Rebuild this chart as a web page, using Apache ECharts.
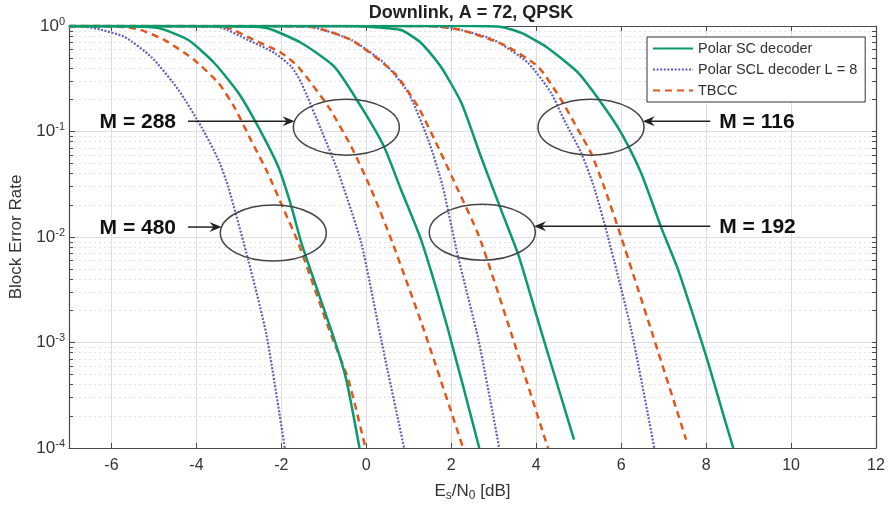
<!DOCTYPE html>
<html lang="en">
<head>
<meta charset="UTF-8">
<title>Downlink, A = 72, QPSK</title>
<script src="https://cdn.jsdelivr.net/npm/echarts@6/dist/echarts.min.js"></script>
</head>
<body style="margin:0;background:#fff">
<div id="main" style="width:890px;height:507px;"></div>
<script type="text/javascript">
// Es/N0 [dB] vs block error rate
const sc480 = [[-7,1],[-5.6,0.995],[-4.89,0.957],[-4.19,0.736],[-3.58,0.446],[-3.01,0.232],[-2.54,0.110],[-2.07,0.046],[-1.76,0.0192],[-1.53,0.0088],[-0.75,0.00106],[-0.47,0.00044],[-0.16,0.0001]];
const scl480 = [[-7,1],[-6.6,0.985],[-6.24,0.92],[-5.69,0.787],[-5.06,0.508],[-4.42,0.247],[-3.88,0.110],[-3.48,0.0537],[-3.25,0.0298],[-2.78,0.00605],[-2.35,0.00118],[-1.92,0.0001]];
const tbcc480 = [[-7,1],[-6,0.995],[-5.36,0.93],[-4.75,0.736],[-4.05,0.476],[-3.48,0.288],[-3.11,0.171],[-2.71,0.082],[-2.33,0.0412],[-1.93,0.0177],[-1.6,0.00877],[-0.87,0.00131],[-0.42,0.000441],[-0.02,0.0001]];

const sc288 = [[-7,1],[-3.2,0.995],[-2.35,0.957],[-1.53,0.69],[-0.75,0.409],[-0.12,0.171],[0.42,0.0713],[0.82,0.0279],[1.29,0.0094],[1.93,0.0013],[2.66,0.0001]];
const scl288 = [[-7,1],[-4.2,0.998],[-3.48,0.98],[-2.78,0.736],[-2.16,0.555],[-1.76,0.409],[-1.53,0.288],[-1.06,0.103],[-0.66,0.041],[-0.12,0.0088],[0.35,0.00106],[0.89,0.0001]];
const tbcc288 = [[-7,1],[-4.1,0.998],[-3.34,0.98],[-2.64,0.736],[-2.0,0.555],[-1.6,0.409],[-0.89,0.171],[-0.35,0.0713],[0.12,0.0279],[0.59,0.0094],[1.36,0.0013],[2.28,0.0001]];

const sc192 = [[-7,1],[-0.5,0.998],[0.12,0.98],[0.82,0.916],[1.29,0.69],[1.76,0.409],[2.24,0.186],[2.71,0.056],[3.18,0.0178],[3.58,0.00676],[4.07,0.00148],[4.89,0.00012]];
const scl192 = [[-7,1],[-2,0.998],[-1.29,0.98],[-0.35,0.736],[0.42,0.446],[0.99,0.232],[1.46,0.083],[1.79,0.0311],[2.16,0.0065],[2.64,0.00106],[3.13,0.0001]];
const tbcc192 = [[-7,1],[-2,0.998],[-1.29,0.98],[-0.35,0.736],[0.66,0.359],[1.22,0.171],[1.69,0.0713],[2.16,0.0279],[2.66,0.01],[3.41,0.00123],[4.24,0.000111],[4.28,0.0001]];

const sc116 = [[-7,1],[2.5,0.998],[3.18,0.98],[3.65,0.86],[4.24,0.632],[4.99,0.359],[5.6,0.171],[6.0,0.097],[6.47,0.0404],[6.94,0.0124],[7.34,0.0049],[7.88,0.00106],[8.05,0.00064],[8.42,0.000197],[8.64,0.0001]];
const scl116 = [[-7,1],[1.3,0.998],[1.76,0.98],[2.24,0.916],[3.01,0.736],[3.81,0.446],[4.35,0.232],[4.66,0.128],[5.06,0.0625],[5.36,0.0298],[5.69,0.01],[6.24,0.0013],[6.78,0.0001]];
const tbcc116 = [[-7,1],[1.3,0.998],[1.76,0.98],[2.24,0.916],[3.25,0.66],[4.05,0.409],[4.59,0.199],[4.99,0.103],[5.29,0.0625],[5.6,0.0298],[6.0,0.01],[6.71,0.0013],[7.53,0.00012]];

// ticks
const xTicks = [-6, -4, -2, 0, 2, 4, 6, 8, 10, 12];
const yMajor = [1e-4, 1e-3, 1e-2, 1e-1, 1];
const yMinor = [];
[1e-4, 1e-3, 1e-2, 1e-1].forEach(d => {
  for (let m = 2; m <= 9; m++) yMinor.push(+(m * d).toPrecision(3));
});

// annotation ellipses, centre in data units
const notes = [
  { text: 'M = 480', x: -2.19, y: 0.0109, side: 'left' },
  { text: 'M = 288', x: -0.47, y: 0.110, side: 'left' },
  { text: 'M = 192', x: 2.73, y: 0.0111, side: 'right' },
  { text: 'M = 116', x: 5.29, y: 0.110, side: 'right' }
];

const names = { sc: 'Polar SC decoder', scl: 'Polar SCL decoder L = 8', tbcc: 'TBCC' };
const looks = {
  sc:   { color: '#0b9a6e', width: 2.5, type: 'solid' },
  scl:  { color: '#5f5fc0', width: 2.2, type: [2, 1.6] },
  tbcc: { color: '#e2581c', width: 2.5, type: [7, 5] }
};
const curves = [
  ['scl', scl480], ['scl', scl288], ['scl', scl192], ['scl', scl116],
  ['tbcc', tbcc480], ['tbcc', tbcc288], ['tbcc', tbcc192], ['tbcc', tbcc116],
  ['sc', sc480], ['sc', sc288], ['sc', sc192], ['sc', sc116]
];

const font = '"Liberation Sans", Arial, sans-serif';
const axisCol = '#4a4a4a';
const txtCol = '#333';

let myChart = echarts.init(document.getElementById('main'));

let options = {
  animation: false,
  textStyle: { fontFamily: font },
  title: {
    text: 'Downlink, A = 72, QPSK',
    left: 471, top: 4, padding: 0, textAlign: 'center',
    textStyle: { fontSize: 18, fontWeight: 'bold', color: '#222' }
  },
  legend: {
    data: [names.sc, names.scl, names.tbcc],
    orient: 'vertical', left: 647, top: 37,
    itemWidth: 40, itemHeight: 14, itemGap: 6,
    padding: [4, 8, 4, 5],
    backgroundColor: '#fff', borderColor: '#333', borderWidth: 1,
    itemStyle: { opacity: 0 },
    textStyle: { fontSize: 14.5, color: txtCol }
  },
  grid: { left: 67, right: 14, top: 26, bottom: 59 },
  xAxis: [{
    type: 'value', min: -7, max: 12, position: 'bottom',
    name: 'E{sub|s}/N{sub|0} [dB]', nameLocation: 'middle', nameGap: 33,
    nameTextStyle: { fontSize: 17, color: txtCol, rich: { sub: { fontSize: 12, color: txtCol, padding: [9, 0, 0, 0] } } },
    axisLine: { onZero: false, lineStyle: { color: axisCol, width: 1.2 } },
    axisTick: { inside: true, length: 5, customValues: xTicks, lineStyle: { color: axisCol } },
    axisLabel: { customValues: xTicks, fontSize: 16, color: txtCol, margin: 10 },
    splitLine: { show: true, lineStyle: { color: '#dedede' } }
  }, {
    type: 'value', min: -7, max: 12, position: 'top',
    axisLine: { onZero: false, lineStyle: { color: axisCol, width: 1.2 } },
    axisTick: { inside: true, length: 5, customValues: xTicks, lineStyle: { color: axisCol } },
    axisLabel: { show: false }, splitLine: { show: false }
  }],
  yAxis: [{
    type: 'log', logBase: 10, min: 1e-4, max: 1, position: 'left',
    name: 'Block Error Rate', nameLocation: 'middle', nameGap: 44,
    nameTextStyle: { fontSize: 17, color: txtCol },
    axisLine: { show: true, onZero: false, lineStyle: { color: axisCol, width: 1.2 } },
    axisTick: { inside: true, length: 6, customValues: yMajor, lineStyle: { color: axisCol } },
    axisLabel: {
      customValues: yMajor, margin: 4, fontSize: 17, color: txtCol,
      formatter: v => '10{sup|' + Math.round(Math.log10(v)) + '}',
      rich: { sup: { fontSize: 11, color: txtCol, padding: [0, 0, 9, 0] } }
    },
    splitLine: { show: true, lineStyle: { color: '#dedede' } }
  }, {
    type: 'log', logBase: 10, min: 1e-4, max: 1, position: 'left',
    axisLine: { show: false, onZero: false },
    axisTick: { show: true, inside: true, length: 4, customValues: yMinor, lineStyle: { color: axisCol } },
    axisLabel: { show: false },
    splitLine: { show: true, lineStyle: { color: '#e2e2e2', type: [2, 3] } }
  }, {
    type: 'log', logBase: 10, min: 1e-4, max: 1, position: 'right',
    axisLine: { show: true, onZero: false, lineStyle: { color: axisCol, width: 1.2 } },
    axisTick: { show: true, inside: true, length: 4, customValues: yMajor.concat(yMinor), lineStyle: { color: axisCol } },
    axisLabel: { show: false }, splitLine: { show: false }
  }],
  series: curves.map(([k, d]) => ({
    name: names[k], type: 'line', data: d,
    symbol: 'none', smooth: 0.2,
    lineStyle: { color: looks[k].color, width: looks[k].width, type: looks[k].type },
    itemStyle: { color: looks[k].color }
  }))
};

myChart.setOption(options);

// ellipses, arrows and M labels placed through the axes
const px = (x, y) => myChart.convertToPixel({ xAxisIndex: 0, yAxisIndex: 0 }, [x, y]);
const rx = 53, ry = 28;
const gfx = [];
notes.forEach(n => {
  const [cx, cy] = px(n.x, n.y);
  const ay = cy - 6;
  const dx = rx * Math.sqrt(1 - (6 / ry) * (6 / ry));
  gfx.push({ type: 'ellipse', z: 50, shape: { cx: cx, cy: cy, rx: rx, ry: ry },
    style: { fill: 'none', stroke: '#444', lineWidth: 1.5 } });
  let tip, tail, tx, dir;
  if (n.side === 'left') {
    tip = cx - dx; tail = px(-4.2, 1)[0]; tx = px(-6.28, 1)[0]; dir = 1;
  } else {
    tip = cx + dx; tail = px(8.1, 1)[0]; tx = px(8.31, 1)[0]; dir = -1;
  }
  gfx.push({ type: 'line', z: 50, shape: { x1: tail, y1: ay, x2: tip - dir * 6, y2: ay },
    style: { stroke: '#222', lineWidth: 1.5 } });
  gfx.push({ type: 'polygon', z: 50,
    shape: { points: [[tip, ay], [tip - dir * 12, ay - 5], [tip - dir * 8, ay], [tip - dir * 12, ay + 5]] },
    style: { fill: '#222' } });
  gfx.push({ type: 'text', z: 50,
    style: { text: n.text, x: tx, y: ay + 1, align: 'left', verticalAlign: 'middle',
      font: 'bold 21px ' + font, fill: '#111' } });
});
myChart.setOption({ graphic: gfx });
</script>
</body>
</html>
